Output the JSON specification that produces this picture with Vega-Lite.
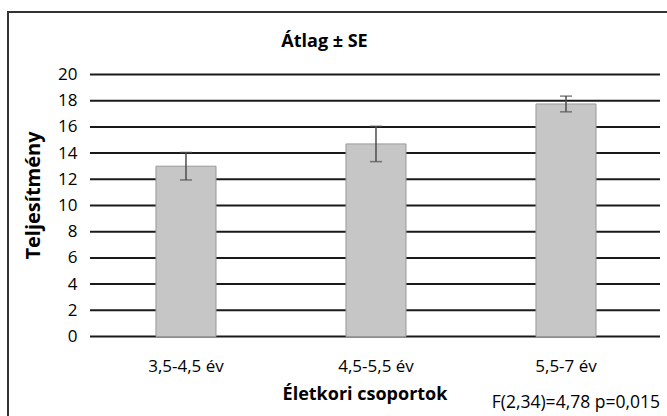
{
  "$schema": "https://vega.github.io/schema/vega-lite/v6.json",
  "width": 661,
  "height": 406,
  "autosize": {"type": "none"},
  "padding": {"left": 8, "top": 12, "right": 0, "bottom": 0},
  "background": "white",
  "config": {"view": {"stroke": "#333333", "strokeWidth": 2}, "font": "Open Sans"},
  "title": {"text": "Átlag ± SE", "font": "Open Sans", "fontSize": 18, "fontWeight": "bold", "color": "#000000", "anchor": "middle", "frame": "group", "offset": -53, "baseline": "alphabetic", "dx": -14},
  "layer": [
    {
      "layer": [
        {
          "data": {"values": [{"v": 0}, {"v": 2}, {"v": 4}, {"v": 6}, {"v": 8}, {"v": 10}, {"v": 12}, {"v": 14}, {"v": 16}, {"v": 18}, {"v": 20}]},
          "mark": {"type": "rule", "color": "#1a1a1a", "strokeWidth": 2},
          "encoding": {
            "y": {"field": "v", "type": "quantitative", "title": "Teljesítmény",
              "scale": {"domain": [-6.221, 24.771], "nice": false, "zero": false},
              "axis": {"values": [0, 2, 4, 6, 8, 10, 12, 14, 16, 18, 20], "offset": -82, "domain": false, "ticks": false, "grid": false, "labelPadding": 13, "labelFont": "Open Sans", "labelFontSize": 17, "labelColor": "#000000", "titleFont": "Open Sans", "titleFontSize": 20, "titleFontWeight": "bold", "titleColor": "#000000", "titlePadding": 14, "titleY": 183}},
            "x": {"datum": 0, "type": "quantitative", "scale": {"domain": [-0.14386, 1.01579], "nice": false, "zero": false}, "axis": null},
            "x2": {"datum": 1}
          }
        },
        {
          "data": {"values": [{"note": "F(2,34)=4,78 p=0,015"}]},
          "mark": {"type": "text", "align": "right", "baseline": "alphabetic", "font": "Open Sans", "fontSize": 17.5, "color": "#000000"},
          "encoding": {
            "text": {"field": "note"},
            "x": {"datum": 1, "type": "quantitative", "axis": null},
            "y": {"datum": -5.45, "type": "quantitative", "title": "Teljesítmény"}
          }
        }
      ]
    },
    {
      "data": {"values": [
        {"group": "3,5-4,5 év", "mean": 13.0, "lo": 11.95, "hi": 14.05},
        {"group": "4,5-5,5 év", "mean": 14.7, "lo": 13.35, "hi": 16.05},
        {"group": "5,5-7 év", "mean": 17.75, "lo": 17.15, "hi": 18.35}
      ]},
      "layer": [
        {
          "mark": {"type": "bar", "fill": "#c6c6c6", "stroke": "#999999", "strokeWidth": 1},
          "encoding": {
            "x": {"field": "group", "type": "nominal", "sort": null, "title": "Életkori csoportok",
              "scale": {"paddingInner": 0.684, "paddingOuter": 0.5814, "align": 0.6697},
              "axis": {"orient": "bottom", "offset": -81.5, "domain": false, "ticks": false, "grid": false, "labelAngle": 0, "labelPadding": 22, "labelFont": "Open Sans", "labelFontSize": 17, "labelColor": "#000000", "titleFont": "Open Sans", "titleFontSize": 18, "titleFontWeight": "bold", "titleColor": "#000000", "titlePadding": 11, "titleX": 356.5, "titleAlign": "center"}},
            "y": {"field": "mean", "type": "quantitative", "title": "Teljesítmény"},
            "y2": {"datum": 0}
          }
        },
        {
          "mark": {"type": "rule", "color": "#4d4d4d", "strokeWidth": 1.5},
          "encoding": {
            "x": {"field": "group", "type": "nominal", "sort": null, "title": "Életkori csoportok"},
            "y": {"field": "lo", "type": "quantitative", "title": "Teljesítmény"},
            "y2": {"field": "hi"}
          }
        },
        {
          "mark": {"type": "tick", "color": "#4d4d4d", "thickness": 1.5, "size": 12, "orient": "horizontal"},
          "encoding": {
            "x": {"field": "group", "type": "nominal", "sort": null, "title": "Életkori csoportok"},
            "y": {"field": "hi", "type": "quantitative", "title": "Teljesítmény"}
          }
        },
        {
          "mark": {"type": "tick", "color": "#4d4d4d", "thickness": 1.5, "size": 12, "orient": "horizontal"},
          "encoding": {
            "x": {"field": "group", "type": "nominal", "sort": null, "title": "Életkori csoportok"},
            "y": {"field": "lo", "type": "quantitative", "title": "Teljesítmény"}
          }
        }
      ]
    }
  ],
  "resolve": {"scale": {"x": "independent"}}
}
